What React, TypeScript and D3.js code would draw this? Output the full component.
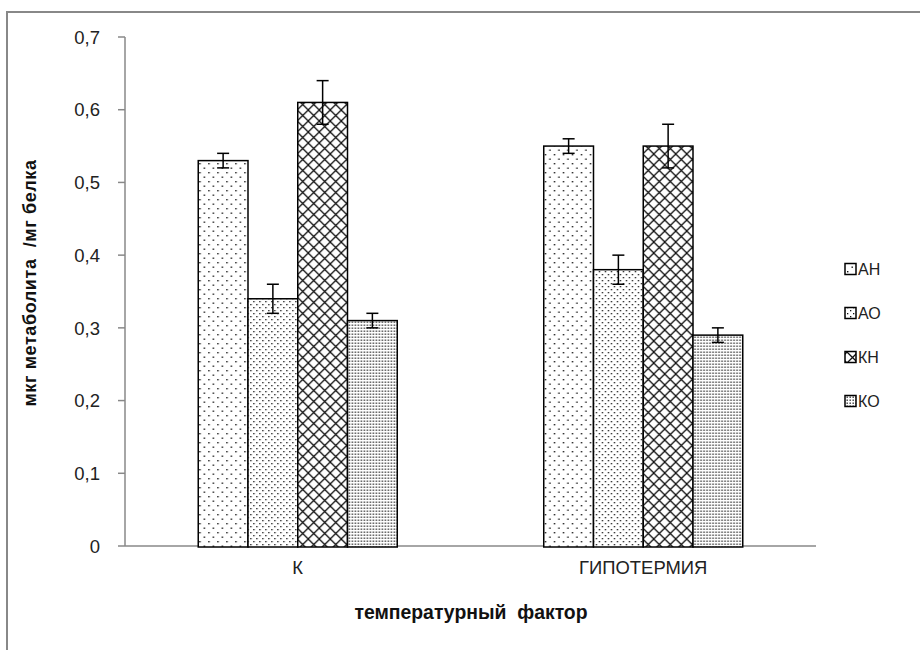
import React from "react";
import * as d3 from "d3";

const categories = ["К", "ГИПОТЕРМИЯ"];
const seriesNames = ["АН", "АО", "КН", "КО"];
const valuesK = [0.53, 0.34, 0.61, 0.31];
const valuesHypo = [0.55, 0.38, 0.55, 0.29];
const errorsK = [0.01, 0.02, 0.03, 0.01];
const errorsHypo = [0.01, 0.02, 0.03, 0.01];
const yTicks = [0, 0.1, 0.2, 0.3, 0.4, 0.5, 0.6, 0.7];
const yTitle = "мкг метаболита  /мг белка";
const xTitle = "температурный  фактор";

const W = 920, H = 650;
const left = 125, right = 816, top = 37, bottom = 546;

export default function App() {
  const x0 = d3.scaleBand<string>().domain(categories).range([left, right]).paddingInner(0.424).paddingOuter(0.212);
  const x1 = d3.scaleBand<string>().domain(seriesNames).range([0, x0.bandwidth()]);
  const y = d3.scaleLinear().domain([0, 0.7]).range([bottom, top]);
  const rows = [
    { cat: categories[0], vals: valuesK, errs: errorsK },
    { cat: categories[1], vals: valuesHypo, errs: errorsHypo },
  ];
  const fills = ["url(#pAH)", "url(#pAO)", "url(#pKH)", "url(#pKO)"];
  const fmt = (v: number) => (v === 0 ? "0" : d3.format(".1f")(v).replace(".", ","));
  const legendY = [269, 313, 357, 401];

  return (
    <svg width={W} height={H} style={{ position: "absolute", left: 0, top: 0, background: "#fff" }}
      fontFamily="'Liberation Sans', Arial, sans-serif">
      <defs>
        <pattern id="pAH" width="9" height="9" patternUnits="userSpaceOnUse">
          <rect width="9" height="9" fill="#fff" />
          <rect x="1" y="1" width="1.4" height="1.4" fill="#111" />
          <rect x="5.5" y="5.5" width="1.4" height="1.4" fill="#111" />
        </pattern>
        <pattern id="pAO" width="6" height="6" patternUnits="userSpaceOnUse">
          <rect width="6" height="6" fill="#fff" />
          <rect x="1" y="1" width="1.3" height="1.3" fill="#111" />
          <rect x="4" y="4" width="1.3" height="1.3" fill="#111" />
        </pattern>
        <pattern id="pKH" width="11" height="11" patternUnits="userSpaceOnUse">
          <rect width="11" height="11" fill="#fff" />
          <path d="M0,0 L11,11 M11,0 L0,11" stroke="#111" strokeWidth="1.3" />
        </pattern>
        <pattern id="pKO" width="3" height="3" patternUnits="userSpaceOnUse">
          <rect width="3" height="3" fill="#fff" />
          <rect x="0.5" y="0.5" width="1.4" height="1.4" fill="#333" />
        </pattern>
      </defs>
      <rect x={7} y={12} width={W} height={H} fill="#fff" stroke="#888" strokeWidth={2} />

      {/* y axis */}
      <line x1={left} x2={left} y1={top} y2={bottom} stroke="#888" strokeWidth={1.5} />
      {yTicks.map((t) => (
        <g key={t}>
          <line x1={left - 7} x2={left} y1={y(t)} y2={y(t)} stroke="#888" strokeWidth={1.5} />
          <text x={100} y={y(t)} dy="0.36em" textAnchor="end" fontSize={18.5} fill="#222">{fmt(t)}</text>
        </g>
      ))}
      {/* x axis */}
      <line x1={left} x2={right} y1={bottom} y2={bottom} stroke="#888" strokeWidth={1.5} />

      {rows.map((r) => (
        <g key={r.cat} transform={`translate(${x0(r.cat)},0)`}>
          {seriesNames.map((s, i) => (
            <rect key={s} x={x1(s)} y={y(r.vals[i])} width={x1.bandwidth()} height={bottom - y(r.vals[i]) + 1}
              fill={fills[i]} stroke="#000" strokeWidth={1.5} />
          ))}
          {seriesNames.map((s, i) => {
            const cx = (x1(s) as number) + x1.bandwidth() / 2;
            const y1 = y(r.vals[i] + r.errs[i]);
            const y2 = y(r.vals[i] - r.errs[i]);
            return (
              <g key={s + "e"} stroke="#000" strokeWidth={1.5}>
                <line x1={cx} x2={cx} y1={y1} y2={y2} />
                <line x1={cx - 6} x2={cx + 6} y1={y1} y2={y1} />
                <line x1={cx - 6} x2={cx + 6} y1={y2} y2={y2} />
              </g>
            );
          })}
          <text x={x0.bandwidth() / 2} y={574} textAnchor="middle" fontSize={19} fill="#222"
            transform={`translate(${x0.bandwidth() / 2},0) scale(0.97,1) translate(${-x0.bandwidth() / 2},0)`}>{r.cat}</text>
        </g>
      ))}

      <text x={471} y={619} textAnchor="middle" fontSize={20} fontWeight="bold" fill="#111" style={{ whiteSpace: "pre" }}
        transform="translate(471,0) scale(0.97,1) translate(-471,0)">{xTitle}</text>
      <text transform="translate(36,283) rotate(-90)" textAnchor="middle" fontSize={18} fontWeight="bold" fill="#111"
        letterSpacing={0.6} style={{ whiteSpace: "pre" }}>{yTitle}</text>

      {seriesNames.map((s, i) => (
        <g key={s}>
          <rect x={845} y={legendY[i] - 5.5} width={11} height={11} fill={fills[i]} stroke="#000" strokeWidth={1.5} />
          <text x={858} y={legendY[i]} dy="0.36em" fontSize={16} fill="#222">{s}</text>
        </g>
      ))}
    </svg>
  );
}
